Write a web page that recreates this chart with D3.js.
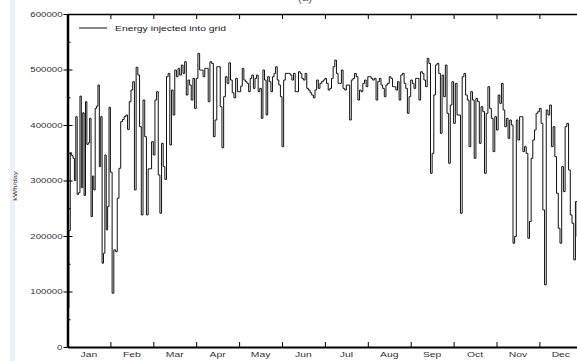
<!DOCTYPE html>
<html>
<head>
<meta charset="utf-8">
<script src="https://cdn.jsdelivr.net/npm/d3@7"></script>
<style>
  body { margin: 0; background: #fff; }
  svg { display: block; font-family: "Liberation Sans", Arial, sans-serif; }
</style>
</head>
<body>
<div id="app"></div>
<script>
// daily energy injected into grid (kWh/day)
const jan = [70000, 210000, 350000, 345000, 340000, 300000, 415000, 275000, 278000, 452000, 287000, 422000, 273000, 442000, 365000, 368000, 412000, 235000, 308000, 283000, 430000, 434000, 472000, 325000, 415000, 151000, 169000, 346000, 211000, 253000, 432000];
const feb = [315000, 97000, 175000, 172000, 268000, 322000, 406000, 410000, 415000, 418000, 392000, 442000, 463000, 478000, 283000, 504000, 490000, 397000, 238000, 445000, 379000, 238000, 321000, 321000, 370000];
const mar = [346000, 445000, 460000, 310000, 241000, 367000, 325000, 302000, 487000, 493000, 364000, 463000, 418000, 499000, 487000, 502000, 490000, 508000, 493000, 514000, 454000, 481000, 472000, 445000, 484000, 430000];
const apr = [484000, 529000, 499000, 499000, 487000, 502000, 502000, 442000, 514000, 511000, 379000, 409000, 505000, 505000, 433000, 359000, 451000, 487000, 475000, 512000, 481000, 458000, 449000, 484000, 460000];
const may = [460000, 470000, 502000, 481000, 478000, 475000, 460000, 484000, 490000, 466000, 484000, 490000, 460000, 466000, 412000, 499000, 481000, 418000, 487000, 478000, 460000, 487000, 493000, 505000, 481000, 472000, 451000];
const jun = [361000, 481000, 493000, 493000, 493000, 490000, 481000, 493000, 460000, 460000, 496000, 493000, 484000, 481000, 493000, 466000, 463000, 458000, 454000, 449000, 463000, 481000, 466000, 475000, 478000, 481000];
const jul = [484000, 475000, 463000, 466000, 484000, 505000, 517000, 493000, 475000, 475000, 499000, 466000, 463000, 472000, 472000, 409000, 481000, 484000, 493000, 487000, 445000, 463000, 460000, 475000, 481000, 469000];
const aug = [487000, 487000, 484000, 481000, 484000, 445000, 478000, 484000, 472000, 466000, 451000, 472000, 475000, 487000, 484000, 469000, 469000, 463000, 478000, 445000, 490000, 493000, 475000, 466000, 421000, 451000];
const sep = [481000, 475000, 466000, 484000, 484000, 445000, 496000, 493000, 481000, 469000, 520000, 511000, 313000, 349000, 454000, 508000, 511000, 493000, 385000, 490000, 451000, 508000, 421000, 331000, 436000, 478000];
const oct = [403000, 475000, 418000, 418000, 241000, 487000, 493000, 454000, 445000, 361000, 460000, 445000, 340000, 448000, 442000, 367000, 433000, 424000, 313000, 421000, 469000, 430000, 412000, 352000, 415000];
const nov = [391000, 454000, 439000, 475000, 427000, 397000, 412000, 376000, 409000, 400000, 187000, 199000, 409000, 373000, 415000, 415000, 352000, 361000, 349000, 196000, 226000, 340000, 373000, 391000, 421000, 424000];
const dec = [430000, 403000, 247000, 112000, 427000, 418000, 436000, 361000, 397000, 343000, 277000, 214000, 187000, 325000, 280000, 397000, 403000, 319000, 238000, 223000, 157000, 262000, 199000, 260000, 245000];

const months = ["Jan", "Feb", "Mar", "Apr", "May", "Jun", "Jul", "Aug", "Sep", "Oct", "Nov", "Dec"];
const yTicks = [0, 100000, 200000, 300000, 400000, 500000, 600000];
const yMinor = [50000, 150000, 250000, 350000, 450000, 550000];
const seriesName = "Energy injected into grid";
const yTitle = "kWh/day";
const panelTitle = "(a)";

const width = 577, height = 361;
const plotLeft = 67.5, plotRight = 582.3, plotTop = 14, plotBottom = 347;
const stretch = 1.38; // the original type is drawn wide

const svg = d3.select("#app").append("svg")
  .attr("width", width)
  .attr("height", height);

// faint strip on the left edge of the scan
svg.append("rect")
  .attr("x", 10).attr("y", 0)
  .attr("width", 5).attr("height", height)
  .attr("fill", "#eef0f9");

const x = d3.scaleLinear().domain([0, 12]).range([plotLeft, plotRight]);
const y = d3.scaleLinear().domain([0, 600000]).range([plotBottom, plotTop]);

const byMonth = [jan, feb, mar, apr, may, jun, jul, aug, sep, oct, nov, dec];
const points = [];
byMonth.forEach((vals, m) => {
  vals.forEach((v, i) => points.push([m + i / vals.length, v]));
});
points.push([12, dec[dec.length - 1]]);

const line = d3.line()
  .x((d) => x(d[0]))
  .y((d) => y(d[1]))
  .curve(d3.curveStepAfter);

svg.append("path")
  .datum(points)
  .attr("d", line)
  .attr("fill", "none")
  .attr("stroke", "#111")
  .attr("stroke-width", 1);

const widen = (sel) => {
  sel.each(function () {
    const len = this.getComputedTextLength();
    d3.select(this)
      .attr("textLength", len * stretch)
      .attr("lengthAdjust", "spacingAndGlyphs");
  });
};

const monthEdges = d3.range(1, 12);

// bottom axis
svg.append("g")
  .attr("transform", `translate(0,${plotBottom})`)
  .call(d3.axisBottom(x).tickValues(monthEdges).tickSize(-5).tickSizeOuter(0).tickFormat(""))
  .call((g) => g.select(".domain").attr("stroke-width", 2));

// top frame
svg.append("g")
  .attr("transform", `translate(0,${plotTop})`)
  .call(d3.axisTop(x).tickValues(monthEdges).tickSize(-5).tickSizeOuter(0).tickFormat(""))
  .call((g) => g.select(".domain").attr("stroke-width", 1.5));

// right frame (mostly off the page)
svg.append("g")
  .attr("transform", `translate(${plotRight},0)`)
  .call(d3.axisRight(y).tickValues(yTicks).tickSize(-5).tickSizeOuter(0).tickFormat(""));

// left axis: labelled ticks crossing the line, short minor ticks inside
svg.append("g")
  .attr("transform", `translate(${plotLeft},0)`)
  .call(d3.axisRight(y).tickValues(yTicks).tickSize(5).tickSizeOuter(0).tickFormat(""))
  .call((g) => g.select(".domain").remove());
svg.append("g")
  .attr("transform", `translate(${plotLeft},0)`)
  .call(d3.axisRight(y).tickValues(yMinor).tickSize(3).tickSizeOuter(0).tickFormat(""))
  .call((g) => g.select(".domain").remove());

const yAxis = svg.append("g")
  .attr("transform", `translate(${plotLeft},0)`)
  .call(d3.axisLeft(y).tickValues(yTicks).tickSize(4).tickSizeOuter(0).tickPadding(1).tickFormat(d3.format("d")))
  .call((g) => g.select(".domain").attr("stroke-width", 2.5));
yAxis.selectAll("text")
  .attr("font-family", "Liberation Sans, Arial, sans-serif")
  .attr("font-size", 7)
  .attr("fill", "#333")
  .call(widen);

// month names centred in each month
svg.append("g")
  .selectAll("text")
  .data(months)
  .join("text")
  .attr("x", (d, i) => x(i + 0.5))
  .attr("y", 357)
  .attr("text-anchor", "middle")
  .attr("font-size", 7.5)
  .attr("fill", "#333")
  .text((d) => d)
  .call(widen);

// legend
svg.append("line")
  .attr("x1", 79).attr("x2", 107)
  .attr("y1", 28).attr("y2", 28)
  .attr("stroke", "#111")
  .attr("stroke-width", 1);
svg.append("text")
  .attr("x", 115).attr("y", 31)
  .attr("font-size", 7.5)
  .attr("fill", "#222")
  .text(seriesName)
  .call(widen);

// y title
svg.append("text")
  .attr("transform", "translate(17,186) rotate(-90)")
  .attr("text-anchor", "middle")
  .attr("font-size", 5.5)
  .attr("fill", "#333")
  .text(yTitle)
  .call(widen);

// panel title, almost cut off at the top
svg.append("text")
  .attr("x", 305).attr("y", 0.5)
  .attr("text-anchor", "middle")
  .attr("font-size", 12)
  .attr("fill", "#666")
  .text(panelTitle);
</script>
</body>
</html>
